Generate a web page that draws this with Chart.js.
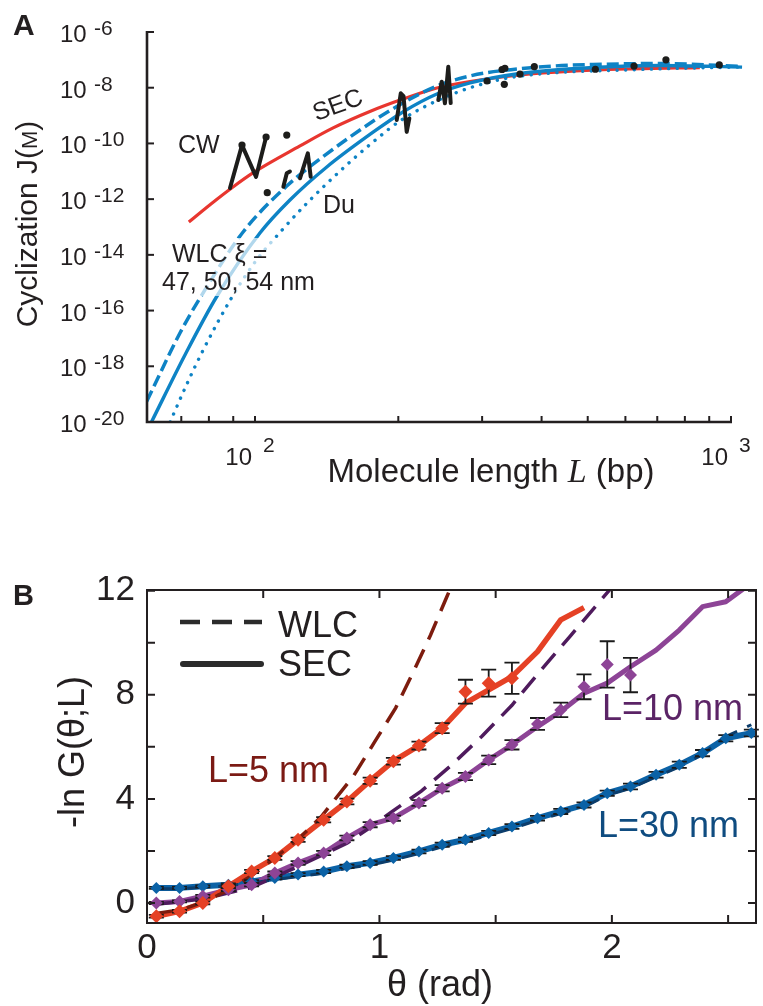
<!DOCTYPE html>
<html>
<head>
<meta charset="utf-8">
<script src="https://cdn.jsdelivr.net/npm/chart.js@4.4.1/dist/chart.umd.min.js"></script>
<style>
  html, body { margin: 0; padding: 0; background: #fff; }
  #wrap { position: relative; width: 763px; height: 1006px; }
  canvas { position: absolute; left: 0; }
  #cA { top: 0; }
  #cB { top: 520px; }
</style>
</head>
<body>
<div id="wrap">
  <canvas id="cA" width="763" height="520"></canvas>
  <canvas id="cB" width="763" height="486"></canvas>
</div>
<script>
// Panel A – cyclization J factor against molecule length (bp), log-log
// -------------------------------------------------------------
const yTicksA = [1e-6, 1e-8, 1e-10, 1e-12, 1e-14, 1e-16, 1e-18, 1e-20];
const yExpA = ['-6', '-8', '-10', '-12', '-14', '-16', '-18', '-20'];
const xTicksA = [70, 80, 90, 100, 200, 300, 400, 500, 600, 700, 800, 900, 1000];
const xLabelTicksA = [100, 1000];
const xExpA = ['2', '3'];

// SEC model (red)
const secL = [72.6, 80.8, 89.9, 99.0, 124.3, 145.9, 174.3, 204.5, 241, 307, 378, 437, 603, 860];
const secJ = [1.5e-13, 6.7e-13, 2.73e-12, 8.7e-12, 8.1e-11, 3.6e-10, 1.4e-9, 3.9e-9, 9.8e-9, 2.06e-8, 3.1e-8, 3.7e-8, 4.7e-8, 5.3e-8];
// WLC, xi = 47 nm (dashed)
const wlc47L = [59.2, 69.6, 77.3, 94.4, 116.6, 141.5, 178.5, 204.5, 241, 283, 332, 423, 513, 710, 1055];
const wlc47J = [5.4e-20, 1.6e-17, 3.6e-16, 6.6e-14, 2.96e-12, 4.2e-11, 6.9e-10, 2.83e-9, 1.15e-8, 2.64e-8, 4.15e-8, 6.0e-8, 6.8e-8, 7.4e-8, 5.8e-8];
// WLC, xi = 50 nm (solid)
const wlc50L = [60.6, 71.3, 83.1, 102.5, 118.4, 141.5, 178.5, 204.5, 241, 283, 360, 513, 710, 1055];
const wlc50J = [1.0e-20, 2.6e-18, 3.2e-16, 6.2e-14, 9.3e-13, 1.43e-11, 2.8e-10, 1.35e-9, 5.96e-9, 1.48e-8, 3.24e-8, 5.3e-8, 6.3e-8, 5.5e-8];
// WLC, xi = 54 nm (dotted)
const wlc54L = [66.3, 71.6, 77.4, 89.5, 100, 114.5, 128.5, 151, 176, 204.5, 260.5, 332, 431, 557, 831, 1055];
const wlc54J = [1.0e-20, 1.95e-19, 3.2e-18, 3.1e-16, 5.5e-15, 8.5e-14, 7.1e-13, 1.03e-11, 1.04e-10, 7.5e-10, 5.96e-9, 2.06e-8, 3.5e-8, 4.15e-8, 5.1e-8, 5.5e-8];

// experimental data (black): jagged traces and single points
const cwL = [88.6, 93.9, 100.5, 105.5];
const cwJ = [2.5e-12, 8.7e-11, 6.3e-12, 1.7e-10];
const rL = [114.7, 116.6, 118.4];
const rJ = [2.8e-12, 8.5e-12, 9.8e-12];
const nL = [124.3, 129.1, 130.9];
const nJ = [5.6e-12, 4.4e-11, 6.4e-12];
const g3L = [198.5, 202.4, 205.1, 208.3, 211];
const g3J = [6.9e-10, 6.3e-9, 5.0e-9, 2.6e-10, 7.9e-10];
const g4L = [242.7, 246.7, 250.6, 254.7, 257.7];
const g4J = [3.6e-9, 1.65e-8, 2.75e-9, 5.7e-8, 2.8e-9];
const dotL = [93.9, 105.5, 106.1, 116.6, 307.2, 330.4, 334, 334.9, 360.3, 386.2, 518.8, 625.6, 730, 944.9, 1053];
const dotJ = [8.7e-11, 1.7e-10, 1.7e-12, 2.0e-10, 1.74e-8, 4.5e-8, 1.32e-8, 5.0e-8, 3.1e-8, 5.7e-8, 4.6e-8, 6.0e-8, 1.0e-7, 6.6e-8, 5.2e-8];

// Panel B – -ln G(theta; L), linear
// -------------------------------------------------------------
const yTicksB = [0, 2, 4, 6, 8, 10, 12];
const yLabelsB = [0, 4, 8, 12];
const xTicksB = [0.5, 1, 1.5, 2, 2.5];
const xLabelsB = [0, 1, 2];

const theta = [0.04, 0.14, 0.24, 0.35, 0.45, 0.55, 0.65, 0.76, 0.86, 0.96, 1.06, 1.17, 1.27,
               1.37, 1.47, 1.57, 1.68, 1.78, 1.88, 1.98, 2.08, 2.19, 2.29, 2.39, 2.49, 2.60];

// L = 5 nm
const sec5 = [-0.51, -0.32, 0.0, 0.64, 1.21, 1.73, 2.43, 3.2, 3.9, 4.7, 5.45, 6.05, 6.72, 7.68, 8.19, 8.7, 9.66, 10.88, 11.35];
const sim5 = [-0.51, -0.32, 0.0, 0.64, 1.21, 1.73, 2.43, 3.2, 3.9, 4.7, 5.45, 6.05, 6.72, 8.12, 8.45, 8.64];
const err5 = [0.05, 0.05, 0.05, 0.06, 0.06, 0.07, 0.08, 0.1, 0.11, 0.12, 0.13, 0.15, 0.19, 0.46, 0.52, 0.6];
const wlcTh5 = [0.04, 0.15, 0.25, 0.35, 0.45, 0.55, 0.65, 0.75, 0.89, 0.98, 1.07, 1.15, 1.22, 1.29, 1.32];
const wlc5 = [-0.4, -0.25, 0.05, 0.5, 1.05, 1.73, 2.45, 3.32, 4.9, 6.2, 7.5, 8.96, 10.3, 11.77, 12.4];
// L = 10 nm
const sec10 = [0.0, 0.06, 0.26, 0.51, 0.7, 1.15, 1.54, 1.92, 2.5, 3.01, 3.26, 3.84, 4.41, 4.86, 5.5, 6.08, 6.78, 7.36, 8.06, 8.45, 9.08, 9.72, 10.49, 11.39, 11.58, 12.3];
const sim10 = [0.0, 0.06, 0.26, 0.51, 0.7, 1.15, 1.54, 1.92, 2.5, 3.01, 3.26, 3.84, 4.41, 4.86, 5.5, 6.08, 6.88, 7.42, 8.31, 9.17, 8.76];
const err10 = [0.04, 0.04, 0.05, 0.05, 0.06, 0.06, 0.07, 0.08, 0.09, 0.1, 0.1, 0.11, 0.12, 0.14, 0.16, 0.18, 0.23, 0.28, 0.48, 0.89, 0.66];
const wlcTh10 = [0.04, 0.24, 0.45, 0.65, 0.86, 0.96, 1.06, 1.18, 1.31, 1.44, 1.57, 1.69, 1.82, 1.99, 2.02];
const wlc10 = [-0.05, 0.15, 0.6, 1.4, 2.3, 2.9, 3.55, 4.3, 5.3, 6.4, 7.6, 8.9, 10.25, 12.03, 12.4];
// L = 30 nm
const sec30 = [0.58, 0.58, 0.64, 0.7, 0.83, 0.96, 1.09, 1.21, 1.41, 1.54, 1.73, 1.98, 2.24, 2.43, 2.69, 2.94, 3.26, 3.52, 3.77, 4.22, 4.48, 4.93, 5.31, 5.76, 6.33, 6.53];
const sim30 = [0.58, 0.58, 0.64, 0.7, 0.83, 0.96, 1.09, 1.21, 1.41, 1.54, 1.73, 1.98, 2.24, 2.43, 2.69, 2.94, 3.26, 3.52, 3.77, 4.22, 4.48, 4.93, 5.31, 5.76, 6.33, 6.53];
const err30 = [0.04, 0.04, 0.04, 0.05, 0.05, 0.05, 0.06, 0.06, 0.06, 0.07, 0.07, 0.07, 0.08, 0.08, 0.08, 0.09, 0.09, 0.1, 0.1, 0.1, 0.11, 0.11, 0.12, 0.12, 0.12, 0.13];
const wlc30 = [0.55, 0.55, 0.6, 0.66, 0.77, 0.9, 1.02, 1.14, 1.33, 1.46, 1.65, 1.9, 2.16, 2.35, 2.61, 2.86, 3.18, 3.44, 3.69, 4.14, 4.4, 4.85, 5.23, 5.72, 6.4, 6.85];

// -------------------------------------------------------------
const ink = '#231f20';
const SANS = '"Liberation Sans", Arial, Helvetica, sans-serif';

function pts(xs, ys) {
  const out = [];
  xs.forEach((x, i) => {
    if (ys[i] !== null && ys[i] !== undefined) out.push({ x, y: ys[i] });
  });
  return out;
}

function lineDs(xs, ys, color, width, dash, order, extra) {
  return Object.assign({
    data: pts(xs, ys),
    borderColor: color,
    backgroundColor: color,
    borderWidth: width,
    borderDash: dash || [],
    pointRadius: 0,
    tension: 0,
    fill: false,
    order
  }, extra || {});
}

function text(ctx, s, x, y, font, color, align) {
  ctx.font = font;
  ctx.fillStyle = color || ink;
  ctx.textAlign = align || 'left';
  ctx.textBaseline = 'alphabetic';
  ctx.fillText(s, x, y);
}

// a row of differently styled text pieces, centred on cx
function runs(ctx, parts, cx, y, color) {
  let total = 0;
  parts.forEach(p => { ctx.font = p[1]; total += ctx.measureText(p[0]).width; });
  let sx = cx - total / 2;
  parts.forEach(p => {
    ctx.font = p[1];
    ctx.fillStyle = color || ink;
    ctx.textAlign = 'left';
    ctx.textBaseline = 'alphabetic';
    ctx.fillText(p[0], sx, y);
    sx += ctx.measureText(p[0]).width;
  });
}

// ---------- panel A plugin: axes, ticks, annotations ----------
const panelA = {
  id: 'panelA',
  afterDatasetsDraw(chart) {
    // white veil behind the WLC label, the curves show through faintly
    const ctx = chart.ctx;
    ctx.save();
    ctx.fillStyle = 'rgba(255,255,255,0.68)';
    ctx.fillRect(160, 238, 168, 58);
    ctx.restore();
  },
  afterDraw(chart) {
    const { ctx, chartArea: a, scales: { x, y } } = chart;
    const x0 = a.left;
    const yb = y.getPixelForValue(1e-20);
    const xr = x.getPixelForValue(1000);
    ctx.save();
    ctx.strokeStyle = ink;
    ctx.lineWidth = 2.6;
    ctx.lineJoin = 'miter';
    ctx.beginPath();
    ctx.moveTo(x0, y.getPixelForValue(1e-6) - 1);
    ctx.lineTo(x0, yb);
    ctx.lineTo(xr + 1, yb);
    ctx.stroke();

    ctx.lineWidth = 2;
    yTicksA.forEach(v => {
      const py = y.getPixelForValue(v);
      ctx.beginPath(); ctx.moveTo(x0, py); ctx.lineTo(x0 + 7, py); ctx.stroke();
    });
    xTicksA.forEach(v => {
      const px = x.getPixelForValue(v);
      ctx.beginPath(); ctx.moveTo(px, yb); ctx.lineTo(px, yb - 6); ctx.stroke();
    });

    const f24 = '24px ' + SANS, f21 = '21px ' + SANS, f25 = '25px ' + SANS;
    yTicksA.forEach((v, i) => {
      const py = y.getPixelForValue(v);
      text(ctx, '10', 60, py + 10, f24);
      text(ctx, yExpA[i], 94, py + 3, f21);
    });
    xLabelTicksA.forEach((v, i) => {
      const px = x.getPixelForValue(v);
      text(ctx, '10', px - 3, 465, f24, ink, 'right');
      text(ctx, xExpA[i], px + 8, 452, f21);
    });

    // annotations
    text(ctx, 'CW', 178, 153, f25);
    text(ctx, 'Du', 323, 213, f25);
    text(ctx, 'WLC \u03be =', 172, 262, f25);
    text(ctx, '47, 50, 54 nm', 162, 290, f25);
    ctx.save();
    ctx.translate(338, 106);
    ctx.rotate(-20 * Math.PI / 180);
    ctx.font = f25; ctx.fillStyle = ink; ctx.textAlign = 'center'; ctx.textBaseline = 'middle';
    ctx.fillText('SEC', 0, 0);
    ctx.restore();

    // axis titles
    ctx.save();
    ctx.translate(37, 224);
    ctx.rotate(-Math.PI / 2);
    runs(ctx, [['Cyclization J(', '30px ' + SANS], ['M', '22px ' + SANS], [')', '30px ' + SANS]], 0, 0);
    ctx.restore();
    runs(ctx, [['Molecule length ', '33px ' + SANS],
               ['L', 'italic 34px "Liberation Serif", "Times New Roman", serif'],
               [' (bp)', '33px ' + SANS]], 491, 482);

    text(ctx, 'A', 13, 35, 'bold 30px ' + SANS);
    ctx.restore();
  }
};

// ---------- panel B plugin: error bars, frame, legend, labels ----------
const panelB = {
  id: 'panelB',
  beforeDatasetDraw(chart, args) {
    const ds = chart.data.datasets[args.index];
    if (!ds.errorBars) return;
    const ctx = chart.ctx, y = chart.scales.y;
    ctx.save();
    ctx.strokeStyle = '#1a1a1a';
    ctx.lineWidth = 1.8;
    args.meta.data.forEach((pt, i) => {
      const v = ds.data[i].y, e = ds.errorBars[i];
      const top = y.getPixelForValue(v + e), bot = y.getPixelForValue(v - e);
      ctx.beginPath();
      ctx.moveTo(pt.x, top); ctx.lineTo(pt.x, bot);
      ctx.moveTo(pt.x - 7.5, top); ctx.lineTo(pt.x + 7.5, top);
      ctx.moveTo(pt.x - 7.5, bot); ctx.lineTo(pt.x + 7.5, bot);
      ctx.stroke();
    });
    ctx.restore();
  },
  afterDraw(chart) {
    const { ctx, chartArea: a, scales: { x, y } } = chart;
    ctx.save();
    ctx.strokeStyle = ink;
    ctx.lineWidth = 2;
    ctx.strokeRect(a.left, a.top, a.right - a.left, a.bottom - a.top);
    yTicksB.forEach(v => {
      const py = y.getPixelForValue(v);
      ctx.beginPath();
      ctx.moveTo(a.left, py); ctx.lineTo(a.left + 8, py);
      ctx.moveTo(a.right, py); ctx.lineTo(a.right - 8, py);
      ctx.stroke();
    });
    xTicksB.forEach(v => {
      const px = x.getPixelForValue(v);
      ctx.beginPath();
      ctx.moveTo(px, a.bottom); ctx.lineTo(px, a.bottom - 8);
      ctx.moveTo(px, a.top); ctx.lineTo(px, a.top + 8);
      ctx.stroke();
    });

    const f35 = '35px ' + SANS, f36 = '36px ' + SANS;
    yLabelsB.forEach(v => {
      const py = y.getPixelForValue(v);
      ctx.font = f35; ctx.fillStyle = ink; ctx.textAlign = 'right'; ctx.textBaseline = 'middle';
      ctx.fillText(String(v), a.left - 12, py);
    });
    xLabelsB.forEach(v => {
      text(ctx, String(v), x.getPixelForValue(v), a.bottom + 35, f35, ink, 'center');
    });

    // legend
    ctx.strokeStyle = '#2b2b2b';
    ctx.lineWidth = 4.5;
    ctx.setLineDash([20, 12]);
    ctx.beginPath(); ctx.moveTo(180, 102); ctx.lineTo(262, 102); ctx.stroke();
    ctx.setLineDash([]);
    ctx.lineWidth = 6; ctx.lineCap = 'round';
    ctx.beginPath(); ctx.moveTo(183, 144); ctx.lineTo(261, 144); ctx.stroke();
    ctx.lineCap = 'butt';
    text(ctx, 'WLC', 278, 117, f36);
    text(ctx, 'SEC', 278, 156, f36);

    // curve labels
    text(ctx, 'L=5 nm', 208, 262, f36, '#7b1a14');
    text(ctx, 'L=10 nm', 602, 200, f36, '#5b2466');
    text(ctx, 'L=30 nm', 598, 317, f36, '#0f4c80');

    // axis titles
    text(ctx, '\u03b8 (rad)', 440, 476, f36, ink, 'center');
    ctx.save();
    ctx.translate(84, 232);
    ctx.rotate(-Math.PI / 2);
    text(ctx, '-ln G(\u03b8;L)', 0, 0, f36, ink, 'center');
    ctx.restore();

    text(ctx, 'B', 13, 85, 'bold 29px ' + SANS);
    ctx.restore();
  }
};

// ---------- charts ----------
const blue = '#0e83c5';
const clipA = { left: 0, top: 0, right: 14, bottom: 0 };
const smooth = { cubicInterpolationMode: 'monotone', clip: clipA };
const jag = { borderJoinStyle: 'round', borderCapStyle: 'round', clip: clipA };

new Chart(document.getElementById('cA'), {
  type: 'line',
  data: {
    datasets: [
      lineDs(secL, secJ, '#e8362f', 3.2, [], 50, smooth),
      lineDs(wlc54L, wlc54J, blue, 3.4, [0.1, 8.5], 45, Object.assign({ borderCapStyle: 'round' }, smooth)),
      lineDs(wlc50L, wlc50J, blue, 3.4, [], 44, smooth),
      lineDs(wlc47L, wlc47J, blue, 3.5, [12, 5], 43, smooth),
      lineDs(cwL, cwJ, '#1d1d1b', 4, [], 20, jag),
      lineDs(rL, rJ, '#1d1d1b', 4, [], 20, jag),
      lineDs(nL, nJ, '#1d1d1b', 4, [], 20, jag),
      lineDs(g3L, g3J, '#1d1d1b', 4, [], 20, jag),
      lineDs(g4L, g4J, '#1d1d1b', 4, [], 20, jag),
      lineDs(dotL, dotJ, '#1d1d1b', 0, [], 10, {
        showLine: false, pointRadius: 3.6, pointBorderWidth: 0,
        pointBackgroundColor: '#1d1d1b', clip: clipA
      })
    ]
  },
  options: {
    responsive: false,
    animation: false,
    events: [],
    layout: { padding: { left: 147, top: 32, right: 32, bottom: 98 } },
    scales: {
      x: { type: 'logarithmic', min: 59.3, max: 1000, display: false },
      y: { type: 'logarithmic', min: 1e-20, max: 1e-6, display: false }
    },
    plugins: { legend: { display: false }, tooltip: { enabled: false } }
  },
  plugins: [panelA]
});

const diamonds = (ys, errs, color, r, order) => lineDs(theta, ys, color, 0, [], order, {
  showLine: false, pointStyle: 'rectRot', pointRadius: r, pointBorderWidth: 0,
  pointBackgroundColor: color, errorBars: errs
});

new Chart(document.getElementById('cB'), {
  type: 'line',
  data: {
    datasets: [
      lineDs(theta, sec30, '#0b62a6', 6, [], 42, { borderJoinStyle: 'round' }),
      lineDs(theta, sec10, '#8d4496', 5, [], 41, { borderJoinStyle: 'round' }),
      lineDs(theta, sec5, '#e54125', 5.5, [], 40, { borderJoinStyle: 'round' }),
      lineDs(theta, wlc30, '#0c3d6b', 3, [20, 11], 32),
      lineDs(wlcTh10, wlc10, '#4f1b5d', 3.5, [20, 11], 31),
      lineDs(wlcTh5, wlc5, '#7d1c0e', 3.5, [20, 11], 30),
      diamonds(sim30, err30, '#0b62a6', 6, 12),
      diamonds(sim10, err10, '#8d4496', 6.5, 11),
      diamonds(sim5, err5, '#e54125', 7, 10)
    ]
  },
  options: {
    responsive: false,
    animation: false,
    events: [],
    layout: { padding: { left: 147, top: 70, right: 6, bottom: 83 } },
    scales: {
      x: { type: 'linear', min: 0, max: 2.62, display: false },
      y: { type: 'linear', min: -0.77, max: 12.03, display: false }
    },
    plugins: { legend: { display: false }, tooltip: { enabled: false } }
  },
  plugins: [panelB]
});
</script>
</body>
</html>
